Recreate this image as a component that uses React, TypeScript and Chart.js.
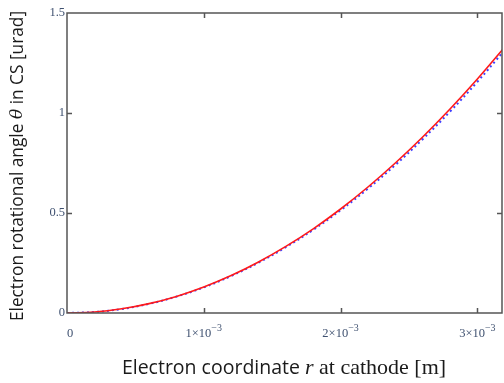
import React, { useEffect, useRef } from "react";
import { Chart, registerables } from "chart.js";

Chart.register(...registerables);

// r at cathode [m] (x 1e-3)
const rValues = [0, 0.2, 0.4, 0.6, 0.8, 1.0, 1.2, 1.4, 1.6, 1.8, 2.0, 2.2, 2.4, 2.6, 2.8, 3.0, 3.2];
// theta [urad], red solid curve
const thetaRed = [0, 0.005, 0.021, 0.047, 0.083, 0.13, 0.187, 0.255, 0.333, 0.421, 0.52, 0.63, 0.75, 0.88, 1.02, 1.17, 1.33];
// theta [urad], blue dotted curve
const thetaBlue = [0, 0.005, 0.02, 0.046, 0.082, 0.128, 0.185, 0.252, 0.329, 0.416, 0.514, 0.622, 0.74, 0.869, 1.007, 1.156, 1.315];

const xTickValues = [0, 1e-3, 2e-3, 3e-3];
const xTickMantissa = ["0", "1×10", "2×10", "3×10"];
const xTickExponent = ["", "−3", "−3", "−3"];
const yTickValues = [0, 0.5, 1, 1.5];
const yTickLabels = ["0", "0.5", "1", "1.5"];

const yTitleParts = [
  { text: "Electron rotational angle ", font: "17.3px 'Open Sans'" },
  { text: "θ", font: "italic 17px 'DejaVu Serif'" },
  { text: " in CS [urad]", font: "17.3px 'Open Sans'" },
];
const xTitleParts = [
  { text: "Electron coordinate ", font: "19.5px 'Open Sans'" },
  { text: "r", font: "italic 22px 'Liberation Serif'" },
  { text: " at cathode [m]", font: "22px 'Liberation Serif'" },
];

const AXIS_COLOR = "#555555";
const TICK_COLOR = "#3f5170";
const TICK_FONT = "12.5px 'Liberation Serif'";
const EXP_FONT = "10px 'Liberation Serif'";

const framePlugin = {
  id: "frame",
  afterDraw(chart: any) {
    const { ctx, chartArea: a, scales } = chart;
    ctx.save();
    ctx.strokeStyle = AXIS_COLOR;
    ctx.lineWidth = 1.5;
    ctx.strokeRect(a.left, a.top, a.right - a.left, a.bottom - a.top);
    const len = 5;
    ctx.beginPath();
    for (const v of xTickValues) {
      const px = Math.round(scales.x.getPixelForValue(v)) + 0.5;
      if (px <= a.left + 1 || px >= a.right - 1) continue;
      ctx.moveTo(px, a.bottom);
      ctx.lineTo(px, a.bottom - len);
      ctx.moveTo(px, a.top);
      ctx.lineTo(px, a.top + len);
    }
    for (const v of yTickValues) {
      const py = Math.round(scales.y.getPixelForValue(v)) + 0.5;
      if (py <= a.top + 1 || py >= a.bottom - 1) continue;
      ctx.moveTo(a.left, py);
      ctx.lineTo(a.left + len, py);
      ctx.moveTo(a.right, py);
      ctx.lineTo(a.right - len, py);
    }
    ctx.stroke();

    // tick labels
    ctx.fillStyle = TICK_COLOR;
    ctx.textBaseline = "middle";
    ctx.textAlign = "right";
    ctx.font = TICK_FONT;
    yTickValues.forEach((v, i) => {
      const py = scales.y.getPixelForValue(v);
      ctx.fillText(yTickLabels[i], a.left - 2, py);
    });
    ctx.textAlign = "left";
    xTickValues.forEach((v, i) => {
      const px = scales.x.getPixelForValue(v);
      ctx.font = TICK_FONT;
      const w1 = ctx.measureText(xTickMantissa[i]).width;
      ctx.font = EXP_FONT;
      const w2 = xTickExponent[i] ? ctx.measureText(xTickExponent[i]).width : 0;
      const x0 = px - (w1 + w2) / 2 + (i === 0 ? 3 : 0);
      ctx.font = TICK_FONT;
      ctx.fillText(xTickMantissa[i], x0, a.bottom + 21);
      if (xTickExponent[i]) {
        ctx.font = EXP_FONT;
        ctx.fillText(xTickExponent[i], x0 + w1, a.bottom + 15);
      }
    });

    ctx.fillStyle = "#1a1a1a";
    ctx.textBaseline = "middle";
    const drawParts = (parts: any[]) => {
      let w = 0;
      for (const p of parts) {
        ctx.font = p.font;
        w += ctx.measureText(p.text).width;
      }
      let x = -w / 2;
      ctx.textAlign = "left";
      for (const p of parts) {
        ctx.font = p.font;
        ctx.fillText(p.text, x, 0);
        x += ctx.measureText(p.text).width;
      }
    };
    // x title
    ctx.save();
    ctx.translate(284, 368);
    drawParts(xTitleParts);
    ctx.restore();
    // y title
    ctx.save();
    ctx.translate(18, 166);
    ctx.rotate(-Math.PI / 2);
    drawParts(yTitleParts);
    ctx.restore();
    ctx.restore();
  },
};

export default function App() {
  const ref = useRef<HTMLCanvasElement | null>(null);
  useEffect(() => {
    document.body.style.margin = "0";
    const canvas = ref.current!;
    const chart = new Chart(canvas, {
      type: "line",
      data: {
        datasets: [
          {
            label: "red",
            data: rValues.map((r, i) => ({ x: r * 1e-3, y: thetaRed[i] })),
            borderColor: "#ff1a1a",
            borderWidth: 1.6,
            pointRadius: 0,
            tension: 0.4,
            order: 1,
          },
          {
            label: "blue",
            data: rValues.map((r, i) => ({ x: r * 1e-3, y: thetaBlue[i] })),
            borderColor: "#4040ff",
            borderWidth: 2,
            borderDash: [2, 3],
            pointRadius: 0,
            tension: 0.4,
            order: 2,
          },
        ],
      },
      options: {
        responsive: false,
        animation: false,
        layout: { padding: { top: 13, right: 2, left: 0, bottom: 0 } },
        plugins: { legend: { display: false }, tooltip: { enabled: false } },
        scales: {
          x: {
            type: "linear",
            min: 0,
            max: 3.18e-3,
            afterBuildTicks: (s: any) => {
              s.ticks = xTickValues.map((v) => ({ value: v }));
            },
            afterFit: (s: any) => {
              s.height = 70;
            },
            grid: { display: false, drawTicks: false },
            border: { display: false },
            ticks: { display: false },
          },
          y: {
            type: "linear",
            min: 0,
            max: 1.5,
            afterBuildTicks: (s: any) => {
              s.ticks = yTickValues.map((v) => ({ value: v }));
            },
            afterFit: (s: any) => {
              s.width = 67;
            },
            grid: { display: false, drawTicks: false },
            border: { display: false },
            ticks: { display: false },
          },
        },
      },
      plugins: [framePlugin],
    });
    return () => chart.destroy();
  }, []);
  return <canvas ref={ref} width={504} height={383} style={{ display: "block" }} />;
}
